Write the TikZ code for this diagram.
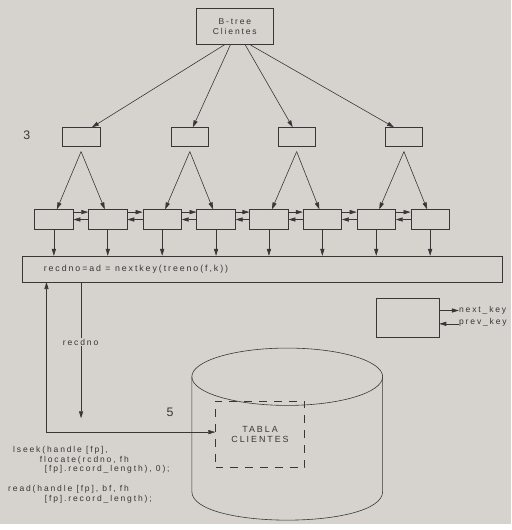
\documentclass[tikz,border=0pt]{standalone}
\usepackage{fontspec}
\setmainfont{Liberation Sans}
\newfontfamily\espaciada[LetterSpace=22]{Liberation Sans}
\usetikzlibrary{arrows.meta, positioning, calc}
\definecolor{papel}{RGB}{214,210,206}
\definecolor{trazo}{RGB}{55,55,55}

\begin{document}
\begin{tikzpicture}[x=1pt, y=-1pt, color=trazo, line width=0.6pt,
                    caja/.style={draw, minimum width=38pt, minimum height=19pt, inner sep=0pt},
                    hoja/.style={draw, minimum width=39pt, minimum height=20pt, inner sep=0pt},
                    txt/.style={font=\espaciada\fontsize{8.6}{10}\selectfont, inner sep=0pt},
                    num/.style={font=\fontsize{12.5}{14}\selectfont, inner sep=0pt},
                    flecha/.style={-{Triangle[length=7pt, width=4.2pt]}},
                    ambas/.style={{Triangle[length=7pt, width=4.2pt]}-{Triangle[length=7pt, width=4.2pt]}}]
        \fill[papel] (0,0) rectangle (517,530);
        \node[draw, txt, align=center, minimum width=77pt, minimum height=37pt] (bt) at (237.5,26.5) {B-tree\\Clientes};
        \foreach \i/\x in {1/82, 2/192, 3/300, 4/408.5} \node[caja] (n\i) at (\x,138.5) {};
        \foreach \i/\x in {1/54.5, 2/109, 3/164, 4/218.5, 5/272, 6/326, 7/380.5, 8/435} \node[hoja] (h\i) at (\x,222) {};
        \node[draw, minimum width=485pt, minimum height=26pt, inner sep=0pt] (nk) at (265.5,272) {};
        \node[txt, font=\espaciada\fontsize{8.9}{10}\selectfont, anchor=west] (nkt) at (44,272) {recdno=ad = nextkey(treeno(f,k))};
        \node[num] (l3) at (27,137) {3};
        \foreach \i/\s/\e in {1/-10.5/11, 2/-4.5/3, 3/10.5/-4, 4/15.5/-10} \draw[flecha] ($(bt.south)+(\s,0)$) -- ($(n\i.north)+(\e,0)$);
        \foreach \i/\a/\b in {1/1/2, 2/3/4, 3/5/6, 4/7/8} {
            \coordinate (v\i) at ($(n\i.south)+(0,5)$);
            \draw[flecha] (v\i) -- ($(h\a.north)+(3,0)$);
            \draw[flecha] (v\i) -- ($(h\b.north)+(-3,0)$);
        }
        \foreach \i/\j in {1/2, 2/3, 3/4, 4/5, 5/6, 6/7, 7/8} {
            \draw[flecha] ($(h\i.east)+(0,-7.5)$) -- ($(h\j.west)+(0,-7.5)$);
            \draw[flecha] (h\j.west) -- (h\i.east);
        }
        \foreach \i in {1,...,8} \draw[flecha] (h\i.south) -- (h\i.south |- nk.north);
        \node[draw, minimum width=63pt, minimum height=40pt, inner sep=0pt] (pk) at (412.5,321.5) {};
        \node[txt, anchor=west] (nxt) at (464,314) {next\_key};
        \node[txt, anchor=west] (prv) at (464,326) {prev\_key};
        \draw[flecha] (pk.east |- nxt.west) -- (nxt.west);
        \draw[flecha] ($(prv.west)+(0,1.5)$) -- (pk.east |- {$(prv.west)+(0,1.5)$});
        \draw (290.5,381) ellipse [x radius=96.5, y radius=29];
        \draw (194,381) -- (194,497) .. controls (194,535.7) and (387,535.7) .. (387,497) -- (387,381);
        \node[draw, dash pattern=on 8pt off 7pt, txt, font=\espaciada\fontsize{9}{10}\selectfont, align=center, minimum width=90pt, minimum height=67pt] (tc) at (263,439.5) {TABLA\\CLIENTES};
        \node[num] (l5) at (172,417) {5};
        \coordinate (esq) at (47,437);
        \coordinate (baja) at (82,423);
        \draw[ambas] (nk.south -| esq) -- (esq) -- (tc.west |- esq);
        \draw[flecha] (nk.south -| baja) -- (baja);
        \node[txt, fill=papel, inner sep=1pt] (rl) at (81.5,346) {recdno};
        \node[txt, anchor=west] (c1) at (13,455) {lseek(handle [fp],};
        \node[txt, anchor=west] (c2) at (40,465) {flocate(rcdno, fh};
        \node[txt, anchor=west] (c3) at (45,475) {[fp].record\_length), 0);};
        \node[txt, anchor=west] (c4) at (8,495) {read(handle [fp], bf, fh};
        \node[txt, anchor=west] (c5) at (45,505) {[fp].record\_length);};
    \end{tikzpicture}
\end{document}
